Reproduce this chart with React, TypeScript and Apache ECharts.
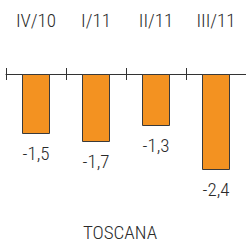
import React, { useEffect, useRef } from "react";
import * as echarts from "echarts";

const categories = ["IV/10", "I/11", "II/11", "III/11"];
const values = [-1.5, -1.7, -1.3, -2.4];
const regionName = "TOSCANA";

const FONT = "'Roboto Condensed', 'DejaVu Sans Condensed', sans-serif";
const WEIGHT = 300;

export default function App() {
  const ref = useRef<HTMLDivElement>(null);
  useEffect(() => {
    if (!ref.current) return;
    const chart = echarts.init(ref.current, undefined, { renderer: "svg" });
    chart.setOption({
      animation: false,
      grid: { left: 6, right: 0, top: 74, height: 160 },
      xAxis: [
        {
          type: "category",
          data: categories,
          position: "top",
          boundaryGap: true,
          axisLine: { show: true, lineStyle: { color: "#333", width: 1 } },
          axisTick: { show: true, inside: false, length: 6, lineStyle: { color: "#333" } },
          axisLabel: {
            margin: 44,
            color: "#2a2a2a",
            fontSize: 19,
            fontWeight: WEIGHT,
            fontFamily: FONT,
          },
        },
        {
          type: "category",
          data: categories,
          position: "top",
          boundaryGap: true,
          axisLine: { show: false },
          axisTick: { show: true, inside: true, length: 6, lineStyle: { color: "#333" } },
          axisLabel: { show: false },
        },
      ],
      yAxis: {
        type: "value",
        min: -4,
        max: 0,
        show: false,
        splitLine: { show: false },
      },
      series: [
        {
          type: "bar",
          data: values,
          barWidth: 28,
          itemStyle: { color: "#F39221", borderColor: "#3a3a3a", borderWidth: 1 },
          label: {
            show: true,
            position: "bottom",
            distance: 10,
            color: "#2a2a2a",
            fontSize: 19,
            fontWeight: WEIGHT,
            fontFamily: FONT,
            formatter: (p: any) => String(p.value).replace(".", ","),
          },
        },
      ],
      graphic: [
        {
          type: "text",
          x: 120,
          y: 232,
          style: {
            text: regionName,
            align: "center",
            verticalAlign: "middle",
            fill: "#2a2a2a",
            fontSize: 19,
            lineHeight: 18,
            fontWeight: WEIGHT,
            fontFamily: FONT,
          },
        },
      ],
    });
    return () => chart.dispose();
  }, []);
  return (
    <div
      ref={ref}
      style={{ position: "absolute", left: 0, top: 0, width: 246, height: 242 }}
    />
  );
}
